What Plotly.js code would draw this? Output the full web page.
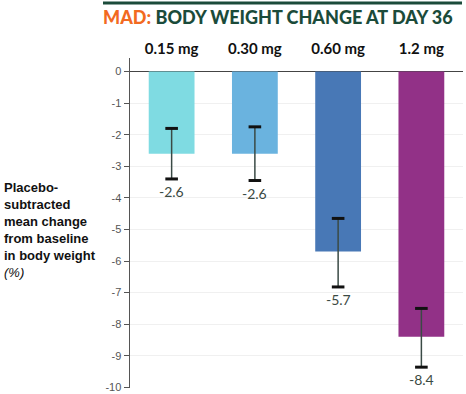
<!DOCTYPE html>
<html>
<head>
<meta charset="utf-8">
<script src="https://cdn.plot.ly/plotly-3.0.1.min.js"></script>
<style>html,body{margin:0;padding:0;background:#fff}#chart{width:466px;height:394px}</style>
</head>
<body>
<div id="chart"></div>
<script>
const categories = ["0.15 mg", "0.30 mg", "0.60 mg", "1.2 mg"];
const values = [-2.6, -2.6, -5.7, -8.4];
const errPlus = [0.8, 0.85, 1.05, 0.9];
const errMinus = [0.8, 0.85, 1.12, 0.96];
const labels = ["-2.6", "-2.6", "-5.7", "-8.4"];
const barColors = ["#7FDBE2", "#6AB3DF", "#4878B6", "#923187"];
const yTicks = [0, -1, -2, -3, -4, -5, -6, -7, -8, -9, -10];

const W = 466, H = 394;
const margin = {l: 130, r: 3, t: 58, b: 6};
const plotW = W - margin.l - margin.r;

const trace = {
  type: "bar",
  x: categories,
  y: values,
  marker: {color: barColors},
  width: 0.55,
  error_y: {
    type: "data",
    symmetric: false,
    array: errPlus,
    arrayminus: errMinus,
    color: "#3a4a45",
    thickness: 1.5,
    width: 0
  },
  hoverinfo: "none"
};

// error-bar caps (thicker, darker than the stems)
const capX = categories.concat(categories);
const capY = values.map((v, i) => v + errPlus[i]).concat(values.map((v, i) => v - errMinus[i]));
const caps = {
  type: "scatter", mode: "markers",
  x: capX, y: capY,
  marker: {symbol: "line-ew", size: 9, line: {width: 3, color: "#111"}},
  hoverinfo: "none"
};

const annotations = categories.map((c, i) => ({
  x: c, y: values[i] - errMinus[i], xref: "x", yref: "y",
  text: labels[i], showarrow: false, yanchor: "top", yshift: -2,
  font: {family: "Lato, sans-serif", size: 14, color: "#3b4a43"}
}));

annotations.push({
  xref: "paper", yref: "paper",
  x: (2 - margin.l) / plotW, xanchor: "left",
  y: 0.478, yanchor: "middle",
  align: "left", showarrow: false,
  text: "<b>Placebo-<br>subtracted<br>mean change<br>from baseline<br>in body weight</b><br><i>(%)</i>",
  font: {family: "Liberation Sans, Arial, sans-serif", size: 13, color: "#111"}
});

const layout = {
  width: W, height: H,
  margin: margin,
  paper_bgcolor: "#fff", plot_bgcolor: "#fff",
  showlegend: false,
  title: {
    text: '<span style="color:#F26A21">MAD:</span> BODY WEIGHT CHANGE AT DAY 36',
    xref: "container", yref: "container",
    x: 103 / W, xanchor: "left",
    y: 1 - 18 / H, yanchor: "middle",
    font: {family: "Lato, sans-serif", size: 18, color: "#1B4B3A", weight: 900}
  },
  xaxis: {
    side: "top",
    type: "category",
    range: [-0.5, 3.5],
    showline: false, showgrid: false, zeroline: false,
    ticks: "",
    tickfont: {family: "Lato, sans-serif", size: 15, color: "#111", weight: "bold"},
    fixedrange: true
  },
  yaxis: {
    range: [-10.02, 0.43],
    tickvals: yTicks,
    ticktext: yTicks.map(String),
    showline: true, linecolor: "#555", linewidth: 1.5,
    ticks: "outside", ticklen: 5, tickcolor: "#555", tickwidth: 1,
    showgrid: true, gridcolor: "#f0f0f0", gridwidth: 1,
    zeroline: true, zerolinecolor: "#444", zerolinewidth: 1.5,
    tickfont: {family: "Liberation Sans, Arial, sans-serif", size: 11, color: "#555"},
    fixedrange: true
  },
  shapes: [{
    type: "line", xref: "paper", yref: "paper",
    x0: (103 - margin.l) / plotW, x1: (462 - margin.l) / plotW,
    y0: 1 + (margin.t - 3) / (H - margin.t - margin.b),
    y1: 1 + (margin.t - 3) / (H - margin.t - margin.b),
    line: {color: "#1B4B3A", width: 3}
  }],
  annotations: annotations
};

Plotly.newPlot("chart", [trace, caps], layout, {displayModeBar: false, staticPlot: true});
</script>
</body>
</html>
